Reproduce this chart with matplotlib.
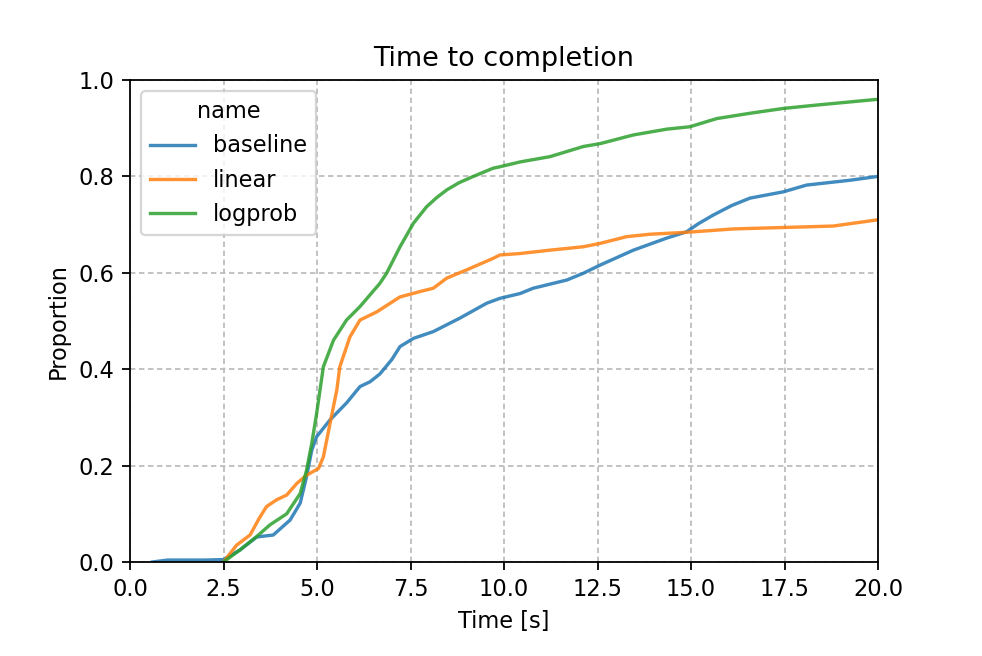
import matplotlib

matplotlib.use("Agg")

import matplotlib.pyplot as plt

# values (time [s], cumulative proportion)
baseline_t = [0.6, 1.0, 2.0, 2.5, 2.94, 3.39, 3.83, 4.28, 4.55, 4.72, 4.86, 4.99,
              5.35, 5.79, 6.15, 6.42, 6.68, 7.0, 7.22, 7.58, 8.11, 8.82, 9.54,
              9.89, 10.43, 10.78, 11.68, 12.12, 12.57, 13.46, 14.35, 14.88, 15.2,
              15.6, 16.1, 16.58, 17.47, 18.09, 19.25, 20.0]
baseline_p = [0.0, 0.004, 0.004, 0.005, 0.025, 0.052, 0.056, 0.087, 0.122, 0.177,
              0.232, 0.26, 0.295, 0.33, 0.364, 0.374, 0.39, 0.42, 0.447, 0.464,
              0.478, 0.506, 0.537, 0.547, 0.557, 0.568, 0.585, 0.599, 0.616,
              0.647, 0.672, 0.685, 0.702, 0.72, 0.74, 0.755, 0.768, 0.782,
              0.792, 0.80]

linear_t = [2.5, 2.85, 3.21, 3.45, 3.65, 3.92, 4.19, 4.46, 4.72, 5.04, 5.17, 5.35,
            5.53, 5.61, 5.88, 6.15, 6.6, 7.22, 7.75, 8.11, 8.47, 9.0, 9.71, 9.89,
            10.43, 11.23, 12.12, 12.57, 13.28, 13.9, 14.88, 16.13, 17.47, 18.8,
            20.0]
linear_p = [0.0, 0.035, 0.056, 0.09, 0.115, 0.129, 0.139, 0.163, 0.18, 0.194,
            0.218, 0.288, 0.357, 0.405, 0.467, 0.502, 0.519, 0.55, 0.561, 0.568,
            0.589, 0.606, 0.63, 0.637, 0.64, 0.647, 0.654, 0.661, 0.675, 0.68,
            0.684, 0.691, 0.694, 0.697, 0.71]

logprob_t = [2.5, 2.94, 3.39, 3.74, 4.19, 4.55, 4.72, 4.86, 4.99, 5.12, 5.17,
             5.44, 5.79, 6.15, 6.68, 6.86, 7.22, 7.58, 7.93, 8.2, 8.47, 8.8, 9.18,
             9.71, 9.89, 10.43, 11.23, 12.12, 12.57, 13.46, 14.35, 14.97, 15.69,
             16.58, 17.47, 18.36, 20.0]
logprob_p = [0.0, 0.025, 0.053, 0.077, 0.1, 0.142, 0.19, 0.246, 0.308, 0.378,
             0.405, 0.46, 0.502, 0.53, 0.578, 0.599, 0.654, 0.703, 0.737, 0.756,
             0.772, 0.787, 0.8, 0.817, 0.82, 0.83, 0.841, 0.862, 0.868, 0.886,
             0.898, 0.903, 0.92, 0.931, 0.941, 0.948, 0.96]

series = {
    "baseline": (baseline_t, baseline_p, "#1f77b4"),
    "linear": (linear_t, linear_p, "#ff7f0e"),
    "logprob": (logprob_t, logprob_p, "#2ca02c"),
}

fig = plt.figure(figsize=(982 / 162, 656 / 162), dpi=162)
ax = fig.add_axes([130 / 982, 94 / 656, 748 / 982, 482 / 656])

for name, (t, p, color) in series.items():
    ax.plot(t, p, color=color, linewidth=1.5, alpha=0.85, label=name)

ax.set_xlim(0, 20)
ax.set_ylim(0, 1)
ax.set_xticks([0, 2.5, 5, 7.5, 10, 12.5, 15, 17.5, 20])
ax.set_xticklabels(["0.0", "2.5", "5.0", "7.5", "10.0", "12.5", "15.0", "17.5", "20.0"])
ax.set_yticks([0, 0.2, 0.4, 0.6, 0.8, 1.0])
ax.set_yticklabels(["0.0", "0.2", "0.4", "0.6", "0.8", "1.0"])
ax.grid(True, linestyle=(0, (3, 2)), color="#bdbdbd", linewidth=0.8)
ax.set_axisbelow(True)
ax.set_xlabel("Time [s]")
ax.set_ylabel("Proportion")
ax.set_title("Time to completion")
ax.legend(title="name", loc="upper left")

fig.savefig("out.png", dpi=162, facecolor="white")
